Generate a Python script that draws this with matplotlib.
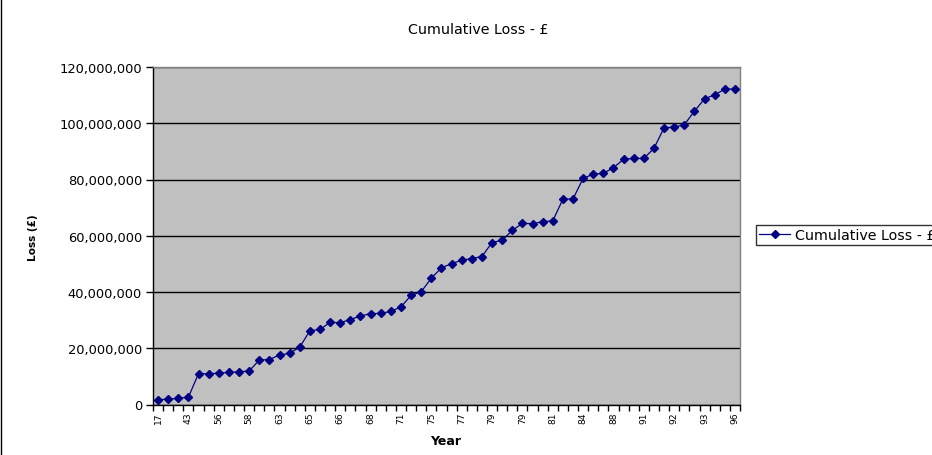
import matplotlib
matplotlib.use("Agg")
import matplotlib.pyplot as plt
from matplotlib.ticker import FuncFormatter, FixedLocator
from matplotlib.lines import Line2D

plt.rcParams['font.family'] = ['DejaVu Sans']

# every third category carries a year label on the axis
year_labels = ['17', '43', '56', '58', '63', '65', '66', '68', '71', '75',
               '77', '79', '79', '81', '84', '88', '91', '92', '93', '96']

# cumulative loss per event, in pounds
cumulative_loss = [
    1.7e6, 1.9e6, 2.2e6, 2.6e6, 11.0e6, 10.9e6, 11.15e6, 11.4e6, 11.65e6, 11.9e6,
    15.8e6, 16.0e6, 17.6e6, 18.2e6, 20.4e6, 26.2e6, 26.7e6, 29.2e6, 29.1e6, 30.2e6,
    31.5e6, 32.3e6, 32.4e6, 33.1e6, 34.7e6, 38.8e6, 40.1e6, 44.9e6, 48.6e6, 50.1e6,
    51.3e6, 51.9e6, 52.6e6, 57.6e6, 58.4e6, 61.9e6, 64.4e6, 64.3e6, 65.0e6, 65.3e6,
    73.0e6, 73.1e6, 80.4e6, 81.9e6, 82.2e6, 84.2e6, 87.2e6, 87.5e6, 87.5e6, 91.1e6,
    98.4e6, 98.6e6, 99.5e6, 104.3e6, 108.7e6, 110.1e6, 112.1e6, 112.2e6,
]

navy = '#000080'
n = len(cumulative_loss)
x = list(range(n))

W, H = 932, 456
fig = plt.figure(figsize=(W / 100, H / 100), dpi=100)
ax = fig.add_axes([153 / W, 1 - 405.5 / H, 587 / W, 337.5 / H])
ax.set_facecolor('#c0c0c0')

ax.plot(x, cumulative_loss, color=navy, lw=0.9, marker='D', markersize=4.5,
        markerfacecolor=navy, markeredgecolor=navy, zorder=3)

ax.set_xlim(-0.5, n - 0.5)
ax.set_ylim(0, 120e6)
ax.set_yticks(range(0, 120000001, 20000000))
ax.yaxis.set_major_formatter(FuncFormatter(lambda v, p: f'{int(v):,}'))
ax.grid(axis='y', color='black', lw=1)
ax.set_axisbelow(True)

# labels under every third category, tick marks between categories
ax.xaxis.set_major_locator(FixedLocator(x[::3]))
ax.set_xticklabels(year_labels, rotation=90)
ax.xaxis.set_minor_locator(FixedLocator([i - 0.5 for i in range(n + 1)]))
ax.tick_params(axis='x', which='major', length=0, pad=5, labelsize=6.6)
ax.tick_params(axis='x', which='minor', length=4, width=1, color='black')
ax.tick_params(axis='y', length=5, width=1, color='black', labelsize=9.4, pad=3)

for side in ('top', 'right'):
    ax.spines[side].set_color('#808080')
    ax.spines[side].set_linewidth(1)
for side in ('left', 'bottom'):
    ax.spines[side].set_color('black')
    ax.spines[side].set_linewidth(1)

fig.text(446 / W, 1 - 442 / H, 'Year', ha='center', va='center',
         fontsize=9, fontweight='bold')
fig.text(33 / W, 1 - 238 / H, 'Loss (£)', ha='center', va='center',
         rotation=90, fontsize=7.6, fontweight='bold')
fig.text(478 / W, 1 - 30 / H, 'Cumulative Loss - £', ha='center',
         va='center', fontsize=10.3)

handle = Line2D([], [], color=navy, lw=0.9, marker='D', markersize=4.5)
leg = fig.legend([handle], ['Cumulative Loss - £'], loc='center left',
                 bbox_to_anchor=(756 / W, 1 - 236 / H), borderaxespad=0,
                 fontsize=10.3, frameon=True, fancybox=False,
                 handlelength=2.2, borderpad=0.2, handletextpad=0.35)
leg.get_frame().set_edgecolor('black')
leg.get_frame().set_linewidth(1)

# chart area border on the left edge
fig.add_artist(Line2D([0.5 / W, 0.5 / W], [0, 1], color='black', lw=1,
                      transform=fig.transFigure))

fig.savefig('out.png', dpi=100)
